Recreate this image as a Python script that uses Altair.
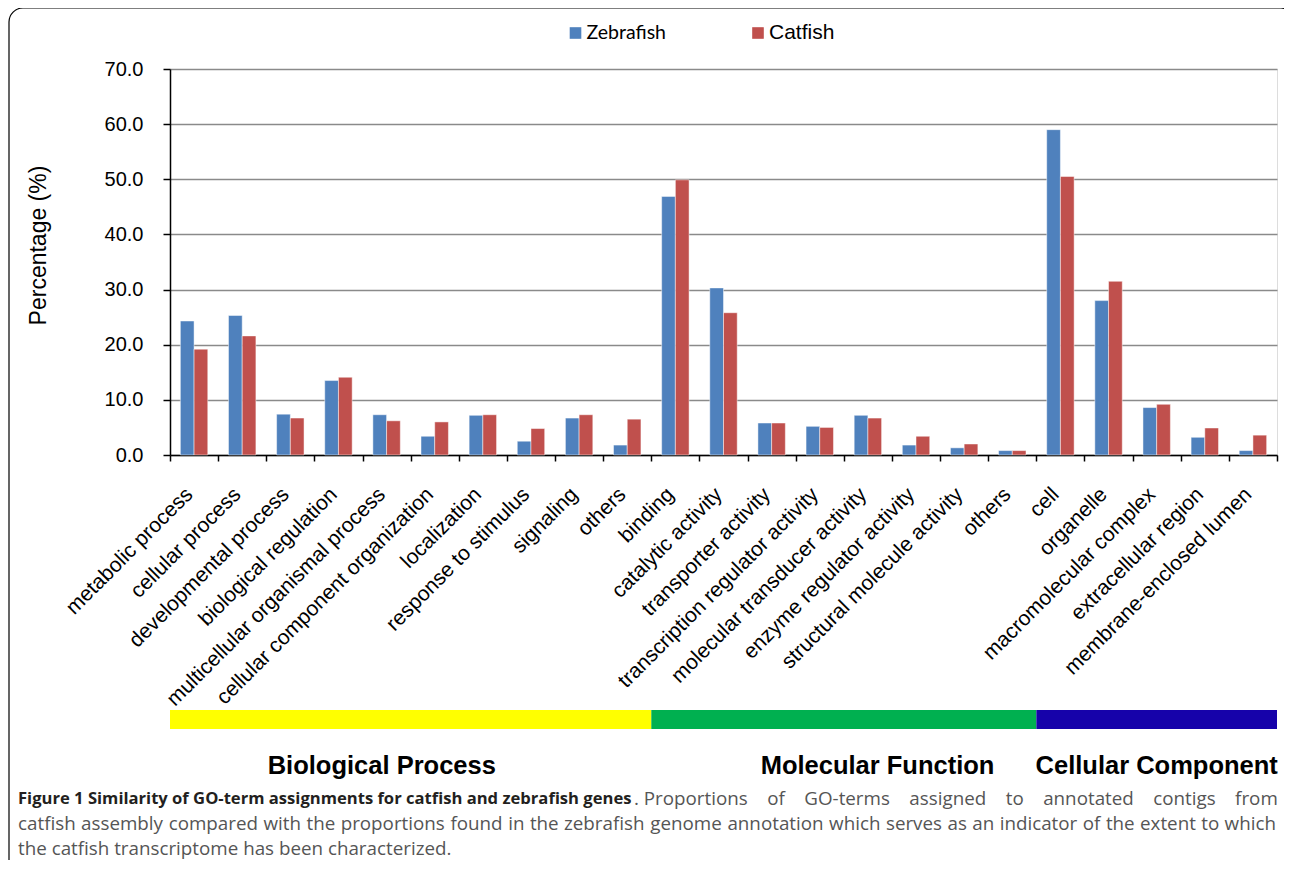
import json
import altair as alt
import pandas as pd

# ---------------- data ----------------
categories = [
    "metabolic process", "cellular process", "developmental process",
    "biological regulation", "multicellular organismal process",
    "cellular component organization", "localization", "response to stimulus",
    "signaling", "others",
    "binding", "catalytic activity", "transporter activity",
    "transcription regulator activity", "molecular transducer activity",
    "enzyme regulator activity", "structural molecule activity", "others",
    "cell", "organelle", "macromolecular complex", "extracellular region",
    "membrane-enclosed lumen",
]
zebrafish = [24.3, 25.3, 7.4, 13.5, 7.3, 3.4, 7.2, 2.5, 6.7, 1.8,
             46.9, 30.3, 5.8, 5.2, 7.2, 1.8, 1.3, 0.8,
             59.0, 28.0, 8.6, 3.2, 0.8]
catfish = [19.2, 21.6, 6.7, 14.1, 6.2, 6.0, 7.3, 4.8, 7.3, 6.5,
           49.9, 25.8, 5.8, 5.0, 6.7, 3.4, 2.0, 0.8,
           50.5, 31.5, 9.2, 4.9, 3.6]
series = ["Zebrafish", "Catfish"]
series_colors = ["#4F81BD", "#C0504D"]

groups = ["Biological Process", "Molecular Function", "Cellular Component"]
group_sizes = [10, 8, 5]
group_colors = ["#FFFF00", "#00B050", "#1602AA"]
group_label_pos = [4.4, 14.7, 20.5]   # label centre, in category units

y_ticks = [0, 10, 20, 30, 40, 50, 60, 70]
y_title = "Percentage (%)"

caption_bold = "Figure 1 Similarity of GO-term assignments for catfish and zebrafish genes"
caption_line1 = ". Proportions of GO-terms assigned to annotated contigs from"
caption_line2 = ("catfish assembly compared with the proportions found in the zebrafish "
                 "genome annotation which serves as an indicator of the extent to which")
caption_line3 = "the catfish transcriptome has been characterized."

# ---------------- tables ----------------
rows = []
for i, _ in enumerate(categories):
    rows.append({"idx": i, "series": series[0], "value": zebrafish[i]})
    rows.append({"idx": i, "series": series[1], "value": catfish[i]})
bars_df = pd.DataFrame(rows)

starts, s = [], 0
for g in group_sizes:
    starts.append(s)
    s += g
bands_df = pd.DataFrame({
    "group": groups,
    "start": starts,
    "end": [a + b for a, b in zip(starts, group_sizes)],
    "color": group_colors,
    "labelpos": group_label_pos,
})

W, H = 1107, 386
N = len(categories)
FONT = "Liberation Sans, Arial, sans-serif"
OX, OY = 170, 69   # page position of the plot origin (for decorations)

label_expr = json.dumps(categories) + "[datum.value]"

bars = alt.Chart(bars_df).mark_bar(
    stroke="white", strokeWidth=0.8, strokeOpacity=0.6
).encode(
    x=alt.X("idx:O",
            scale=alt.Scale(paddingInner=0, paddingOuter=0),
            axis=alt.Axis(title=None, labelExpr=label_expr, labelAngle=-45,
                          labelAlign="right", labelBaseline="middle",
                          labelFont=FONT, labelFontSize=21, labelColor="black",
                          labelPadding=30, labelOffset=-5, labelOverlap=False,
                          labelLimit=0, tickBand="extent", tickSize=6,
                          tickColor="black", tickWidth=1.5,
                          domainColor="black", domainWidth=1.5, grid=False)),
    xOffset=alt.XOffset("series:N",
                        scale=alt.Scale(domain=series, paddingInner=0,
                                        paddingOuter=0.755)),
    y=alt.Y("value:Q",
            scale=alt.Scale(domain=[0, 70], nice=False),
            axis=alt.Axis(values=y_ticks, format=".1f", title=y_title,
                          labelFont=FONT, labelFontSize=20, labelColor="black",
                          labelPadding=20, tickSize=7, tickColor="black",
                          tickWidth=1.5, domainColor="black", domainWidth=1.5,
                          grid=True, gridColor="#8a8a8a", gridWidth=1.4,
                          titleFont=FONT, titleFontSize=23,
                          titleFontWeight="normal", titleColor="black",
                          titleX=-132, titleY=176, titleAngle=270,
                          titleAlign="center", titleBaseline="middle")),
    color=alt.Color("series:N",
                    scale=alt.Scale(domain=series, range=series_colors),
                    legend=None),
)

band_x = alt.Scale(domain=[0, N], nice=False, zero=False)
band_rects = alt.Chart(bands_df).mark_rect().encode(
    x=alt.X("start:Q", scale=band_x, axis=None),
    x2="end:Q",
    y=alt.value(641), y2=alt.value(660),
    color=alt.Color("color:N", scale=None),
)
band_text = alt.Chart(bands_df).mark_text(
    font=FONT, fontSize=25.5, fontWeight="bold", color="black",
    align="center", baseline="middle"
).encode(
    x=alt.X("labelpos:Q", scale=band_x, axis=None),
    y=alt.value(697),
    text="group:N",
)

# legend (manual, drawn from the series list)
legend_layers = []
legend_sq_x = [405.5, 588]
legend_fonts = [("Lato, sans-serif", 19.5), (FONT, 21)]
for i, name in enumerate(series):
    d = alt.Data(values=[{"series": name}])
    legend_layers.append(
        alt.Chart(d).mark_square(size=135, color=series_colors[i], opacity=1)
        .encode(x=alt.value(legend_sq_x[i]), y=alt.value(-36))
    )
    legend_layers.append(
        alt.Chart(d).mark_text(font=legend_fonts[i][0], fontSize=legend_fonts[i][1],
                               align="left", baseline="middle", color="black")
        .encode(x=alt.value(legend_sq_x[i] + 11), y=alt.value(-36),
                text="series:N")
    )

# ---------------- caption (justified like the journal layout) ----------------
CAP_FONT = "Open Sans, sans-serif"
REG = "#555555"
CAP_FS = 18.8
CAP_Y = [799, 824, 849]
_w = {" ": .26, "a": .556, "b": .613, "c": .476, "d": .613, "e": .561, "f": .339,
      "g": .548, "h": .614, "i": .253, "j": .253, "k": .525, "l": .253, "m": .930,
      "n": .614, "o": .604, "p": .613, "q": .613, "r": .408, "s": .477, "t": .353,
      "u": .614, "v": .501, "w": .778, "x": .524, "y": .502, "z": .477, "-": .322,
      ".": .266, "P": .592, "G": .725, "O": .781}


def text_width(t, fs):
    return sum(_w.get(ch, 0.6) for ch in t) * fs


def justified(words, x_start, x_end, fs):
    widths = [text_width(w, fs) for w in words]
    gap = (x_end - x_start - sum(widths)) / (len(words) - 1)
    xs, x = [], x_start
    for wd in widths:
        xs.append(x)
        x += wd + gap
    return xs


cap_items = [(caption_bold, 18, CAP_Y[0], "bold", "#231f20", 16.6)]
l1_words = caption_line1.split(" ")
l1_words = [l1_words[0] + " " + l1_words[1]] + l1_words[2:]
for w, x in zip(l1_words, justified(l1_words, 634, 1278, CAP_FS)):
    cap_items.append((w, x, CAP_Y[0], "normal", REG, CAP_FS))
l2_words = caption_line2.split(" ")
for w, x in zip(l2_words, justified(l2_words, 18, 1276, CAP_FS)):
    cap_items.append((w, x, CAP_Y[1], "normal", REG, CAP_FS))
cap_items.append((caption_line3, 18, CAP_Y[2], "normal", REG, CAP_FS))

cap_df = pd.DataFrame([
    {"t": t, "px": x - OX, "py": y - OY, "wt": wt, "col": c, "fs": fs}
    for t, x, y, wt, c, fs in cap_items
])
cap_layers = []
for wt in ["bold", "normal"]:
    sub = cap_df[cap_df["wt"] == wt]
    cap_layers.append(
        alt.Chart(sub).mark_text(
            font=CAP_FONT, fontWeight=wt, align="left", baseline="middle",
            fontSize=float(sub["fs"].iloc[0]), color=str(sub["col"].iloc[0])
        ).encode(
            x=alt.X("px:Q", scale=None, axis=None),
            y=alt.Y("py:Q", scale=None, axis=None),
            text="t:N",
        )
    )

frame = alt.Chart(alt.Data(values=[{"a": 1}])).mark_rect(
    fill="transparent", stroke="black", strokeWidth=1.2, cornerRadius=14
).encode(x=alt.value(9 - OX), x2=alt.value(1125), y=alt.value(8 - OY), y2=alt.value(850))

chart = alt.layer(
    frame, bars, band_rects, band_text, *legend_layers, *cap_layers
).resolve_scale(
    x="independent", y="independent", color="independent"
).properties(
    width=W, height=H,
    autosize=alt.AutoSizeParams(type="none"),
    padding={"left": 162, "top": 61, "right": 7, "bottom": 405},
).configure_view(strokeWidth=0).configure(background="white")

chart.save("out.html", embed_options={"renderer": "svg", "actions": False})
